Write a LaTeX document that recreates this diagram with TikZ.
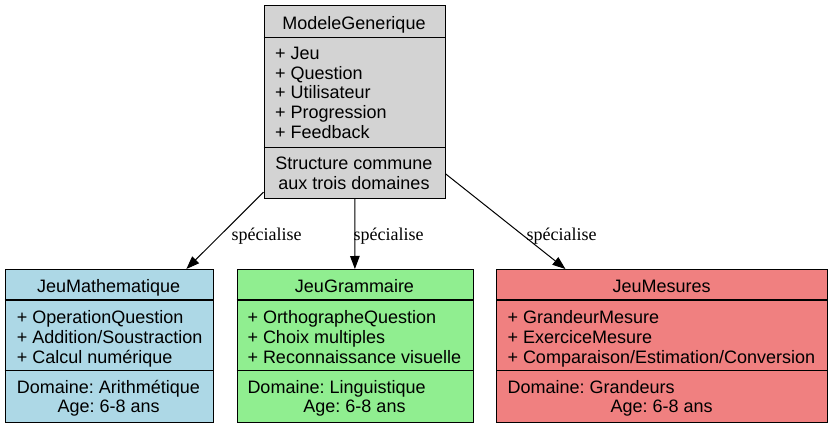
\documentclass[tikz,border=0pt]{standalone}
\usepackage{fontspec}
\setmainfont{Liberation Sans}
\newfontfamily\lblfont{Liberation Serif}
\usetikzlibrary{arrows.meta}
\definecolor{gvgray}{HTML}{D3D3D3}
\definecolor{gvblue}{HTML}{ADD8E6}
\definecolor{gvgreen}{HTML}{90EE90}
\definecolor{gvred}{HTML}{F08080}
\frenchspacing
\begin{document}
\begin{tikzpicture}[x=1pt,y=-1pt,
  box/.style={draw,line width=1.1pt,inner sep=0pt,anchor=north west},
  sep/.style={line width=1.1pt},
  txt/.style={inner sep=0pt,anchor=base west,font=\fontsize{18}{20}\selectfont\frenchspacing},
  ctxt/.style={inner sep=0pt,anchor=base,font=\fontsize{18}{20}\selectfont\frenchspacing},
  lbl/.style={inner sep=0pt,anchor=base,font=\lblfont\fontsize{18}{20}\selectfont},
  spec/.style={-{Triangle[length=13pt,width=9.5pt]},line width=1pt}]
\useasboundingbox (0,0) rectangle (833,427);
\fill[white] (0,0) rectangle (833,427);

% ---- ModeleGenerique
\node[box,fill=gvgray,minimum width=181pt,minimum height=192.7pt] (modele) at (263.5,5) {};
\draw[sep] (263.5,37.3) -- (444.5,37.3);
\draw[sep] (263.5,147.3) -- (444.5,147.3);
\node[ctxt] (mg-t) at (354,29.3) {ModeleGenerique};
\foreach \t [count=\i] in {Jeu,Question,Utilisateur,Progression,Feedback}
  \node[txt] (mg-a\i) at (275,{59.5+19.75*(\i-1)}) {+ \t};
\node[ctxt] (mg-d1) at (354,170) {Structure commune};
\node[ctxt] (mg-d2) at (354,189.5) {aux trois domaines};

% ---- JeuMathematique
\node[box,fill=gvblue,minimum width=208pt,minimum height=152.7pt] (math) at (4.7,269) {};
\draw[sep] (4.7,300) -- (212.7,300);
\draw[sep] (4.7,370.7) -- (212.7,370.7);
\node[ctxt] (jm-t) at (108.7,292.7) {JeuMathematique};
\node[txt] (jm-a1) at (16.7,324) {+ OperationQuestion};
\node[txt] (jm-a2) at (16.7,343.6) {+ Addition/Soustraction};
\node[txt] (jm-a3) at (16.7,363.2) {+ Calcul numérique};
\node[txt] (jm-d1) at (16.7,393.3) {Domaine: Arithmétique};
\node[ctxt] (jm-d2) at (108.7,412.5) {Age: 6-8 ans};

% ---- JeuGrammaire
\node[box,fill=gvgreen,minimum width=236pt,minimum height=152.7pt] (gram) at (236.5,269) {};
\draw[sep] (236.5,300) -- (472.5,300);
\draw[sep] (236.5,370.7) -- (472.5,370.7);
\node[ctxt] (jg-t) at (354.5,292.7) {JeuGrammaire};
\node[txt] (jg-a1) at (247.3,324) {+ OrthographeQuestion};
\node[txt] (jg-a2) at (247.3,343.6) {+ Choix multiples};
\node[txt] (jg-a3) at (247.3,363.2) {+ Reconnaissance visuelle};
\node[txt] (jg-d1) at (247.3,393.3) {Domaine: Linguistique};
\node[ctxt] (jg-d2) at (354.5,412.5) {Age: 6-8 ans};

% ---- JeuMesures
\node[box,fill=gvred,minimum width=331.3pt,minimum height=152.7pt] (mes) at (496,269) {};
\draw[sep] (496,300) -- (827.3,300);
\draw[sep] (496,370.7) -- (827.3,370.7);
\node[ctxt] (je-t) at (661.7,292.7) {JeuMesures};
\node[txt] (je-a1) at (507.3,324) {+ GrandeurMesure};
\node[txt] (je-a2) at (507.3,343.6) {+ ExerciceMesure};
\node[txt] (je-a3) at (507.3,363.2) {+ Comparaison/Estimation/Conversion};
\node[txt] (je-d1) at (507.3,393.3) {Domaine: Grandeurs};
\node[ctxt] (je-d2) at (661.7,412.5) {Age: 6-8 ans};

% ---- edges
\draw[spec] (modele) -- (math);
\draw[spec] (modele) -- (gram);
\draw[spec] (modele) -- (mes);
\node[lbl] (l1) at (266.7,240.7) {spécialise};
\node[lbl] (l2) at (388.5,240.7) {spécialise};
\node[lbl] (l3) at (561.5,240.7) {spécialise};
\end{tikzpicture}
\end{document}
